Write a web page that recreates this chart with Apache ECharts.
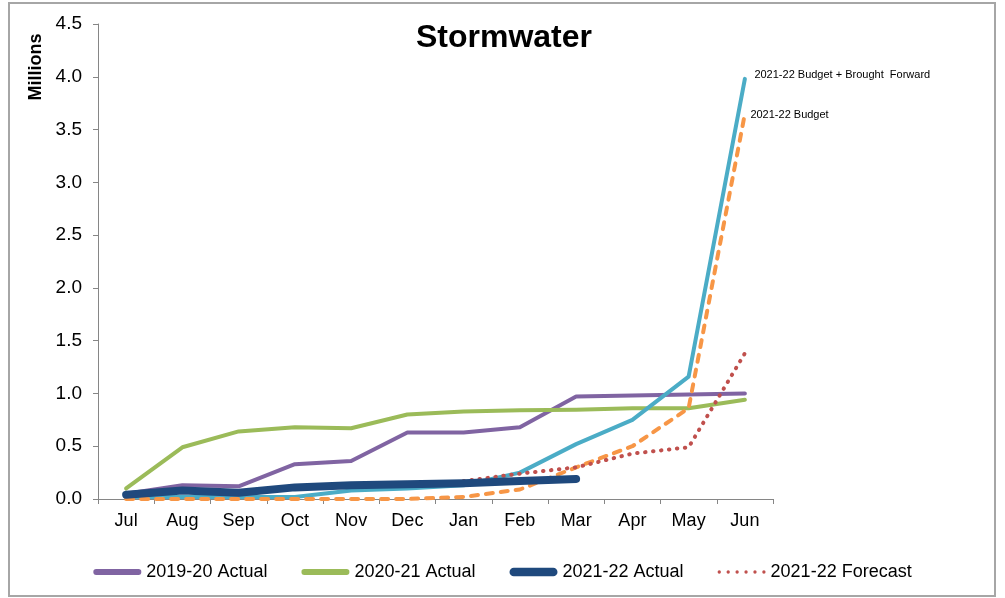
<!DOCTYPE html>
<html>
<head>
<meta charset="utf-8">
<script src="https://cdn.jsdelivr.net/npm/echarts@6/dist/echarts.min.js"></script>
<style>
html,body{margin:0;padding:0;background:#fff;}
#c{width:1005px;height:598px;}
</style>
</head>
<body>
<div id="c"></div>
<script>
const months = ['Jul','Aug','Sep','Oct','Nov','Dec','Jan','Feb','Mar','Apr','May','Jun'];
const actual1920 = [0.05, 0.13, 0.12, 0.33, 0.36, 0.63, 0.63, 0.68, 0.97, 0.98, 0.99, 1.00];
const actual2021 = [0.10, 0.49, 0.64, 0.68, 0.67, 0.80, 0.83, 0.84, 0.845, 0.86, 0.86, 0.94];
const actual2122 = [0.04, 0.08, 0.06, 0.11, 0.13, 0.14, 0.15, 0.17, 0.19, null, null, null];
const forecast2122 = [null, null, null, null, null, null, 0.17, 0.24, 0.30, 0.43, 0.49, 1.38];
const budgetBF = [0.02, 0.02, 0.02, 0.02, 0.08, 0.10, 0.13, 0.25, 0.52, 0.75, 1.16, 3.98];
const budget = [0, 0, 0, 0, 0, 0, 0.02, 0.09, 0.30, 0.50, 0.86, 3.65];
const yTicks = [0, 0.5, 1.0, 1.5, 2.0, 2.5, 3.0, 3.5, 4.0, 4.5];

const FONT = '"Liberation Sans", Arial, sans-serif';
const chart = echarts.init(document.getElementById('c'), null, {renderer: 'canvas'});

function pill(h) {
  const r = h / 2;
  return 'path://M' + r + ',0 L' + (50 - r) + ',0 A' + r + ',' + r + ' 0 0 1 ' + (50 - r) + ',' + h +
    ' L' + r + ',' + h + ' A' + r + ',' + r + ' 0 0 1 ' + r + ',0 Z';
}
function dots() {
  let p = 'path://';
  for (let i = 0; i < 6; i++) {
    const cx = 1.5 + i * 8;
    p += 'M' + (cx - 1.5) + ',1.5 a1.5,1.5 0 1,0 3,0 a1.5,1.5 0 1,0 -3,0 ';
  }
  return p;
}

const option = {
  animation: false,
  backgroundColor: '#fff',
  grid: {left: 98, right: 232, top: 24, bottom: 99, containLabel: false},
  graphic: [
    {type: 'rect', shape: {x: 9, y: 3, width: 986, height: 593}, style: {fill: 'none', stroke: '#a6a6a6', lineWidth: 2}, silent: true, z: -10},
    {type: 'text', x: 504, y: 38, style: {text: 'Stormwater', font: 'bold 32px ' + FONT, fill: '#000', align: 'center', verticalAlign: 'middle'}},
    {type: 'text', x: 36, y: 67, rotation: Math.PI / 2, style: {text: 'Millions', font: 'bold 18px ' + FONT, fill: '#000', align: 'center', verticalAlign: 'middle'}}
  ],
  legend: {
    data: [
      {name: '2019-20 Actual', icon: pill(6)},
      {name: '2020-21 Actual', icon: pill(6)},
      {name: '2021-22 Actual', icon: pill(9)},
      {name: '2021-22 Forecast', icon: dots()}
    ],
    left: 'center',
    top: 558,
    itemWidth: 48,
    itemHeight: 10,
    itemGap: 34,
    itemStyle: {borderWidth: 0},
    textStyle: {fontFamily: FONT, fontSize: 18, color: '#000'},
    selectedMode: false
  },
  xAxis: {
    type: 'category',
    data: months,
    boundaryGap: true,
    axisLine: {lineStyle: {color: '#868686', width: 1}},
    axisTick: {show: true, length: 5, lineStyle: {color: '#868686'}},
    axisLabel: {fontFamily: FONT, fontSize: 18, color: '#000', margin: 13},
    splitLine: {show: false}
  },
  yAxis: {
    type: 'value',
    min: yTicks[0],
    max: yTicks[yTicks.length - 1],
    interval: 0.5,
    axisLine: {show: true, lineStyle: {color: '#868686', width: 1}},
    axisTick: {show: true, length: 5, lineStyle: {color: '#868686'}},
    axisLabel: {fontFamily: FONT, fontSize: 19, color: '#000', margin: 16, formatter: v => v.toFixed(1)},
    splitLine: {show: false}
  },
  series: [
    {name: '2019-20 Actual', type: 'line', data: actual1920, symbol: 'none', color: '#8064A2',
     lineStyle: {width: 4, color: '#8064A2', cap: 'round', join: 'round'}, z: 2},
    {name: '2020-21 Actual', type: 'line', data: actual2021, symbol: 'none', color: '#9BBB59',
     lineStyle: {width: 4, color: '#9BBB59', cap: 'round', join: 'round'}, z: 2},
    {name: '2021-22 Budget + Brought Forward', type: 'line', data: budgetBF, symbol: 'none', color: '#4BACC6',
     lineStyle: {width: 4, color: '#4BACC6', cap: 'round', join: 'round'}, z: 3,
     markPoint: {
       symbol: 'circle', symbolSize: 1, itemStyle: {color: 'rgba(0,0,0,0)'}, silent: true,
       data: [{coord: [months[11], budgetBF[11]], label: {show: true, position: 'right', distance: 5, offset: [4, -4],
         formatter: '2021-22 Budget + Brought  Forward', fontFamily: FONT, fontSize: 11, color: '#000'}}]
     }},
    {name: '2021-22 Budget', type: 'line', data: budget, symbol: 'none', color: '#F79646',
     lineStyle: {width: 4, color: '#F79646', type: [7, 8], cap: 'round', join: 'round'}, z: 4,
     markPoint: {
       symbol: 'circle', symbolSize: 1, itemStyle: {color: 'rgba(0,0,0,0)'}, silent: true,
       data: [{coord: [months[11], budget[11]], label: {show: true, position: 'right', distance: 5, offset: [0, 1],
         formatter: '2021-22 Budget', fontFamily: FONT, fontSize: 11, color: '#000'}}]
     }},
    {name: '2021-22 Forecast', type: 'line', data: forecast2122, symbol: 'none', color: '#C0504D',
     lineStyle: {width: 4, color: '#C0504D', type: [0.5, 7.5], cap: 'round', join: 'round'}, z: 4},
    {name: '2021-22 Actual', type: 'line', data: actual2122, symbol: 'none', color: '#1F497D',
     lineStyle: {width: 8, color: '#1F497D', cap: 'round', join: 'round'}, z: 5}
  ]
};
chart.setOption(option);
</script>
</body>
</html>
